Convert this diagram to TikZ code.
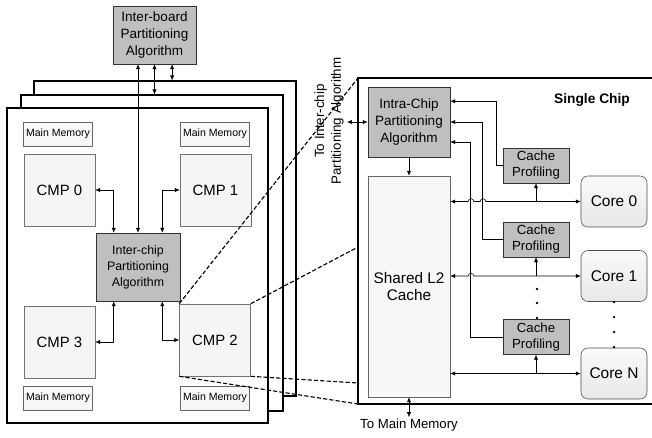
\documentclass[tikz,border=0pt]{standalone}
\usepackage{fontspec}
\setmainfont{Liberation Sans}
\usetikzlibrary{arrows.meta}

\begin{document}
\begin{tikzpicture}[x=0.025cm, y=-0.025cm,
    >={Latex[length=3.5pt,width=3pt]},
    board/.style={draw, line width=0.8pt, fill=white, minimum width=6.55cm, minimum height=7.875cm},
    algbox/.style={draw=black!80, fill=gray!50, align=center, inner sep=1pt, font=\fontsize{9.6}{11.8}\selectfont},
    membox/.style={draw=black!60, fill=gray!6, minimum width=1.72cm, minimum height=0.6cm, inner sep=0pt, font=\fontsize{7.5}{9}\selectfont},
    cmpbox/.style={draw=black!55, fill=gray!8, minimum width=1.775cm, minimum height=1.8cm, font=\fontsize{10.6}{12}\selectfont},
    profbox/.style={algbox, minimum width=1.65cm, minimum height=0.875cm, font=\fontsize{9.4}{11.3}\selectfont},
    corebox/.style={draw=black!70, rounded corners=5pt, top color=gray!4, bottom color=gray!18, minimum width=1.65cm, minimum height=1.275cm, font=\fontsize{11}{13}\selectfont},
    link/.style={<->, thin},
    zoomline/.style={thick, dash pattern=on 3pt off 1.5pt}]

    \useasboundingbox (0,0) rectangle (652,437);

    \node[algbox, minimum width=2.075cm, minimum height=1.45cm] (iboard) at (154.5,35) {Inter-board\\Partitioning\\Algorithm};

    \node[board] (brd2) at (165,238.5) {};
    \node[board, minimum height=7.9cm] (brd1) at (152,253) {};
    \node[board, minimum width=6.525cm] (brd0) at (137.5,265.5) {};

    \node[membox] (mem0) at (58,134) {Main Memory};
    \node[membox] (mem1) at (215,134) {Main Memory};
    \node[membox] (mem3) at (58,398) {Main Memory};
    \node[membox] (mem2) at (215,398) {Main Memory};

    \node[cmpbox] (cmp0) at (59.5,190) {CMP 0};
    \node[cmpbox] (cmp1) at (215.5,190) {CMP 1};
    \node[cmpbox] (cmp3) at (59.5,342) {CMP 3};
    \node[cmpbox] (cmp2) at (215,340) {CMP 2};

    \node[algbox, minimum width=2.1cm, minimum height=1.7cm, font=\fontsize{8.8}{11.3}\selectfont] (ichip) at (138,267) {Inter-chip\\Partitioning\\Algorithm};

    \draw[link] (cmp0.east) -| ([xshift=.45cm]ichip.north west);
    \draw[link] (cmp1.west) -| ([xshift=-.45cm]ichip.north east);
    \draw[link] (cmp3.east) -| ([xshift=.45cm]ichip.south west);
    \draw[link] (cmp2.west) -| ([xshift=-.45cm]ichip.south east);

    \draw[link] (ichip.north) -- (ichip.north |- iboard.south);
    \draw[link] (iboard.south) -- (iboard.south |- brd1.north);
    \draw[link] ([xshift=.44cm]iboard.south) -- ([xshift=.44cm]iboard.south |- brd2.north);

    % the single chip
    \coordinate (chipnw) at (358,78);
    \coordinate (chipsw) at (358,404);
    \coordinate (chipa) at (358,247);
    \coordinate (chipb) at (358,383);
    \draw[line width=0.8pt] (660,78) -- (chipnw) -- (chipsw) -- (660,404);

    \draw[zoomline] (cmp2.north west) -- (chipnw);
    \draw[zoomline] (cmp2.north east) -- (chipa);
    \draw[zoomline] (cmp2.south east) -- (chipb);
    \draw[zoomline] (cmp2.south west) -- (chipsw);

    \node[rotate=90, align=center, font=\fontsize{9.5}{12}\selectfont] (tolabel) at (329,121) {To Inter-chip\\Partitioning Algorithm};

    \node[font=\bfseries\fontsize{9.8}{12}\selectfont] (chiplabel) at (592,100) {Single Chip};

    \node[algbox, minimum width=2.05cm, minimum height=1.75cm] (intra) at (409,122) {Intra-Chip\\Partitioning\\Algorithm};
    \coordinate (tointer) at (347,122);
    \draw[link] (tointer) -- (intra.west);

    \node[draw=black!60, fill=gray!6, minimum width=2.05cm, minimum height=5.525cm, align=center, font=\fontsize{10.9}{12.5}\selectfont] (l2) at (409,286.5) {Shared L2\\Cache};
    \draw[->] (intra) -- (l2);

    \node[inner sep=1pt, font=\fontsize{9.4}{11}\selectfont] (tomem) at (409,425) {To Main Memory};
    \draw[link] (l2) -- (tomem);

    \foreach \i/\y in {0/165.5, 1/239.5, 2/337}
        \node[profbox] (prof\i) at (536,\y) {Cache\\Profiling};

    \foreach \name/\y in {0/201.5, 1/276, N/373.5}
        \node[corebox] (core\name) at (614,\y) {Core \name};

    \draw[link] (l2.east |- core0.west) -- (468.2,201.5) arc[start angle=180, end angle=0, radius=2pt]
        -- (480.2,201.5) arc[start angle=180, end angle=0, radius=2pt] -- (core0.west);
    \draw[link] (l2.east |- core1.west) -- (468.2,276) arc[start angle=180, end angle=0, radius=2pt] -- (core1.west);
    \draw[link] (l2.east |- coreN.west) -- (coreN.west);

    \draw[->] (prof0.south |- core0.west) -- (prof0.south);
    \draw[->] (prof1.south |- core1.west) -- (prof1.south);
    \draw[->] (prof2.south |- coreN.west) -- (prof2.south);

    \draw[->] (prof0.west) -- ++(-6,0) |- ([yshift=.52cm]intra.east);
    \draw[->] (prof1.west) -- ++(-20,0) |- (intra.east);
    \draw[->] (prof2.west) -- ++(-32,0) |- ([yshift=-.5cm]intra.east);

    \foreach \y in {289, 303, 318} {
        \fill (537,\y) circle (0.9pt);
    }
    \foreach \y in {302, 317, 332, 347} {
        \fill (614,\y) circle (0.9pt);
    }

\end{tikzpicture}
\end{document}
